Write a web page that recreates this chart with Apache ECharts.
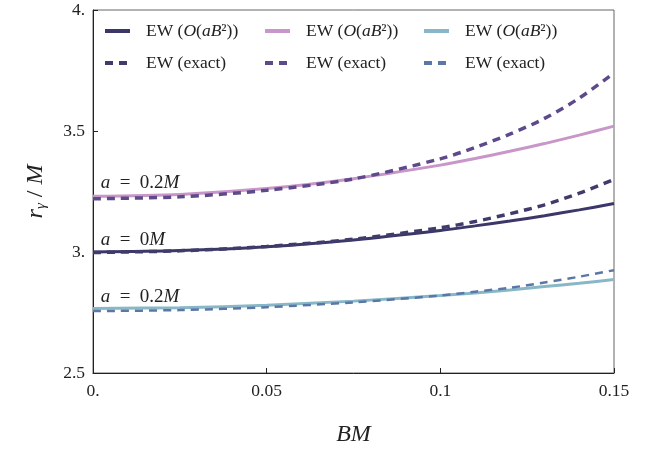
<!DOCTYPE html>
<html>
<head>
<meta charset="utf-8">
<script src="https://cdn.jsdelivr.net/npm/echarts@6/dist/echarts.min.js"></script>
<style>
  html, body { margin: 0; padding: 0; background: #fff; }
  #c1 { width: 670px; height: 453px; }
</style>
</head>
<body>
<div id="c1"></div>
<script>
// B M values (x)
var bm = [0, 0.025, 0.05, 0.075, 0.1, 0.11, 0.12, 0.13, 0.14, 0.15];
// r_gamma / M, O(aB^2) approximation
var ewApproxA0 = [3.000, 3.006, 3.022, 3.050, 3.089, 3.108, 3.128, 3.150, 3.174, 3.200];
var ewApproxUp = [3.230, 3.238, 3.262, 3.303, 3.359, 3.386, 3.416, 3.448, 3.483, 3.520];
var ewApproxLo = [2.767, 2.770, 2.780, 2.797, 2.820, 2.831, 2.843, 2.857, 2.871, 2.886];
// r_gamma / M, exact
var ewExactA0 = [2.998, 3.005, 3.023, 3.053, 3.100, 3.126, 3.158, 3.195, 3.243, 3.300];
var ewExactUp = [3.220, 3.228, 3.255, 3.302, 3.385, 3.432, 3.487, 3.552, 3.636, 3.740];
var ewExactLo = [2.756, 2.760, 2.772, 2.792, 2.820, 2.836, 2.852, 2.874, 2.898, 2.925];

var xTicks = ['0.', '0.05', '0.1', '0.15'];
var yTicks = ['2.5', '3.', '3.5', '4.'];

var serif = 'Liberation Serif';

function pairs(ys) {
    return bm.map(function (x, i) { return [x, ys[i]]; });
}

var approxText = '{g|}{n|EW (}{i|O}{n|(}{i|aB}{n|²))}';
var exactText = '{g|}{n|EW (exact)}';
var legendRich = {
    g: { width: 11 },
    n: { fontFamily: serif, fontSize: 17.5, color: '#222' },
    i: { fontFamily: serif, fontSize: 17.5, fontStyle: 'italic', color: '#222' }
};
var names = {
    a1: approxText, a2: approxText, a3: approxText,
    e1: exactText, e2: exactText, e3: exactText
};

function legendAt(left, data) {
    return {
        orient: 'vertical',
        left: left,
        top: 22,
        padding: 0,
        itemWidth: 25,
        itemHeight: 14,
        itemGap: 14,
        itemStyle: { opacity: 0 },
        lineStyle: { width: 4 },
        data: data,
        formatter: function (n) { return names[n]; },
        textStyle: { rich: legendRich, lineHeight: 18 }
    };
}

// annotation near the left edge of a curve
function tag(text, x, y) {
    return {
        symbol: 'circle',
        symbolSize: 0,
        silent: true,
        label: {
            show: true,
            position: 'right',
            distance: 0,
            formatter: text,
            rich: {
                i: { fontFamily: serif, fontSize: 19, fontStyle: 'italic', color: '#222' },
                n: { fontFamily: serif, fontSize: 19, color: '#222' }
            }
        },
        data: [{ coord: [x, y] }]
    };
}

function line(name, ys, color, width, dashed, z) {
    return {
        name: name,
        type: 'line',
        data: pairs(ys),
        smooth: 0.3,
        symbol: 'none',
        z: z,
        lineStyle: {
            color: color,
            width: width,
            type: dashed ? [8, 6] : 'solid'
        },
        itemStyle: { color: color }
    };
}

var chart = echarts.init(document.getElementById('c1'));

var sA1 = line('a1', ewApproxA0, '#3b3768', 3, false, 3);
sA1.markPoint = tag('{i|a}{n|  =  0}{i|M}', 0.0022, 3.05);
var sA2 = line('a2', ewApproxUp, '#c896c8', 3, false, 3);
sA2.markPoint = tag('{i|a}{n|  =  0.2}{i|M}', 0.0022, 3.285);
var sA3 = line('a3', ewApproxLo, '#88b8c8', 3, false, 3);
sA3.markPoint = tag('{i|a}{n|  =  0.2}{i|M}', 0.0022, 2.814);

var option = {
    backgroundColor: '#fff',
    animation: false,
    grid: {
        left: 93, right: 56, top: 10, bottom: 80,
        show: true,
        borderColor: '#666',
        borderWidth: 1
    },
    legend: [
        legendAt(103, ['a1', 'e1']),
        legendAt(263, ['a2', 'e2']),
        legendAt(422, ['a3', 'e3'])
    ],
    xAxis: {
        type: 'value',
        min: 0, max: 0.15, interval: 0.05,
        name: 'BM',
        nameLocation: 'middle',
        nameGap: 50,
        nameTextStyle: { fontFamily: serif, fontSize: 24, fontStyle: 'italic', color: '#222' },
        axisLine: { lineStyle: { color: '#222' } },
        axisTick: { inside: true, length: 5, lineStyle: { color: '#222' } },
        axisLabel: {
            fontFamily: serif, fontSize: 17.5, color: '#222', margin: 9,
            formatter: function (v) { return xTicks[Math.round(v / 0.05)]; }
        },
        splitLine: { show: false }
    },
    yAxis: {
        type: 'value',
        min: 2.5, max: 4, interval: 0.5,
        name: '{i|r}{s|γ}{n| / }{i|M}',
        nameLocation: 'middle',
        nameGap: 44,
        nameTextStyle: {
            rich: {
                i: { fontFamily: serif, fontSize: 24, fontStyle: 'italic', color: '#222' },
                n: { fontFamily: serif, fontSize: 24, color: '#222' },
                s: { fontFamily: serif, fontSize: 15, fontStyle: 'italic', color: '#222', padding: [12, 0, 0, 0] }
            }
        },
        axisLine: { show: true, lineStyle: { color: '#222' } },
        axisTick: { show: true, inside: true, length: 5, lineStyle: { color: '#222' } },
        axisLabel: {
            fontFamily: serif, fontSize: 17.5, color: '#222', margin: 8,
            formatter: function (v) { return yTicks[Math.round((v - 2.5) / 0.5)]; }
        },
        splitLine: { show: false }
    },
    series: [
        sA1,
        sA2,
        sA3,
        line('e1', ewExactA0, '#3f3c6c', 3.5, true, 4),
        line('e2', ewExactUp, '#5e4a8a', 3.5, true, 4),
        line('e3', ewExactLo, '#5b77a6', 2.5, true, 4)
    ]
};
chart.setOption(option);
</script>
</body>
</html>
